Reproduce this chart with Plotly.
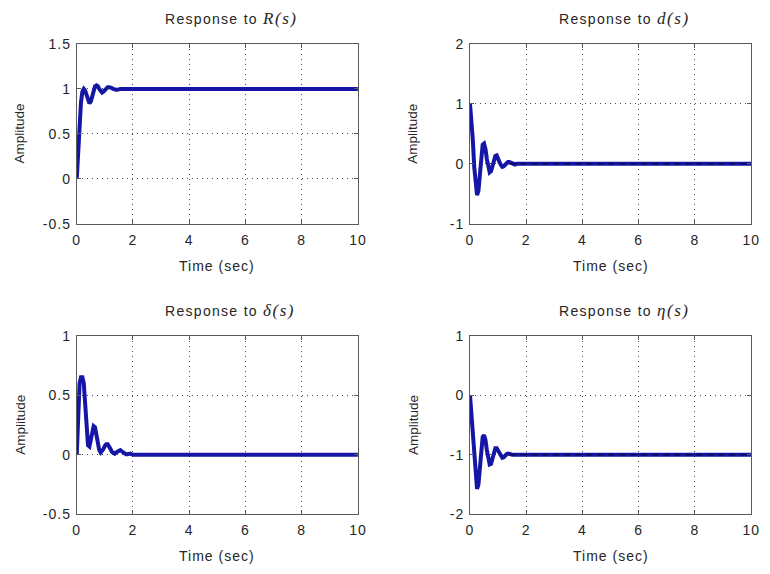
import plotly.graph_objects as go

# Sample instants (s): 0.05 s steps over the transient, then the end of the run
time_s = [0.0, 0.05, 0.1, 0.15, 0.2, 0.25, 0.3, 0.35, 0.4, 0.45,
          0.5, 0.55, 0.6, 0.65, 0.7, 0.75, 0.8, 0.85, 0.9, 0.95,
          1.0, 1.05, 1.1, 1.15, 1.2, 1.25, 1.3, 1.35, 1.4, 1.45,
          1.5, 1.55, 1.6, 1.65, 1.7, 1.75, 1.8, 1.85, 1.9, 1.95,
          2.0, 10.0]

resp_R = [0.0, 0.35, 0.65, 0.85, 0.97, 1.0, 0.98, 0.92, 0.86, 0.84,
          0.86, 0.92, 0.99, 1.03, 1.04, 1.03, 1.0, 0.97, 0.96, 0.97,
          0.99, 1.01, 1.02, 1.02, 1.02, 1.01, 1.0, 0.99, 0.99, 0.99,
          1.0, 1.0, 1.0, 1.0, 1.0, 1.0, 1.0, 1.0, 1.0, 1.0,
          1.0, 1.0]

resp_d = [1.0, 0.75, 0.4, -0.05, -0.4, -0.52, -0.45, -0.15, 0.15, 0.32,
          0.34, 0.25, 0.08, -0.06, -0.14, -0.12, -0.04, 0.06, 0.13, 0.14,
          0.1, 0.03, -0.02, -0.05, -0.04, -0.01, 0.02, 0.03, 0.03, 0.02,
          0.0, -0.01, -0.01, 0.0, 0.0, 0.0, 0.0, 0.0, 0.0, 0.0,
          0.0, 0.0]

resp_delta = [0.0, 0.4, 0.6, 0.65, 0.65, 0.6, 0.42, 0.2, 0.08, 0.07,
              0.12, 0.2, 0.24, 0.23, 0.17, 0.09, 0.04, 0.02, 0.03, 0.05,
              0.075, 0.09, 0.09, 0.075, 0.05, 0.025, 0.012, 0.01, 0.02, 0.03,
              0.04, 0.04, 0.03, 0.02, 0.01, 0.005, 0.005, 0.01, 0.01, 0.005,
              0.0, 0.0]

resp_eta = [0.0, -0.3, -0.65, -1.0, -1.4, -1.57, -1.5, -1.2, -0.88, -0.7,
            -0.67, -0.75, -0.92, -1.07, -1.16, -1.15, -1.06, -0.95, -0.89, -0.89,
            -0.93, -0.99, -1.03, -1.05, -1.04, -1.01, -0.99, -0.98, -0.98, -0.99,
            -1.0, -1.0, -1.0, -1.0, -1.0, -1.0, -1.0, -1.0, -1.0, -1.0,
            -1.0, -1.0]

# Steady-state levels drawn dashed for the disturbance / noise responses
final_d = 0.0
final_eta = -1.0
steady_from = 1.4

x_ticks = [0, 2, 4, 6, 8, 10]
x_ticktext = ["0", "2", "4", "6", "8", "10"]

y_ticks_R = [-0.5, 0, 0.5, 1, 1.5]
y_text_R = ["-0.5", "0", "0.5", "1", "1.5"]
y_ticks_d = [-1, 0, 1, 2]
y_text_d = ["-1", "0", "1", "2"]
y_ticks_delta = [-0.5, 0, 0.5, 1]
y_text_delta = ["-0.5", "0", "0.5", "1"]
y_ticks_eta = [-2, -1, 0, 1]
y_text_eta = ["-2", "-1", "0", "1"]

title_inputs = ["R(s)", "d(s)", "&#948;(s)", "&#951;(s)"]

W, H = 770, 574
SANS = "Liberation Sans, Arial, sans-serif"
TEXT = "#262626"
LINE = "#1616a6"
FS = 14


def wide(s, spacing=1.0):
    """Horizontal text with a little extra tracking."""
    return f"<span style='letter-spacing:{spacing}px'>{s}</span>"


# pixel boxes of the four panels: (left, right, top, bottom)
boxes = [(74, 360, 37, 222), (474, 760, 37, 222),
         (74, 360, 337, 521), (474, 760, 337, 521)]

panels = [
    (resp_R, y_ticks_R, y_text_R, None),
    (resp_d, y_ticks_d, y_text_d, final_d),
    (resp_delta, y_ticks_delta, y_text_delta, None),
    (resp_eta, y_ticks_eta, y_text_eta, final_eta),
]

fig = go.Figure()
annotations = []
layout_axes = {}

for i, ((resp, yt, ytt, final), (l, r, t, b), name) in enumerate(
        zip(panels, boxes, title_inputs)):
    n = i + 1
    xa = "x" if n == 1 else f"x{n}"
    ya = "y" if n == 1 else f"y{n}"

    fig.add_trace(go.Scatter(x=time_s, y=resp, mode="lines",
                             line=dict(color=LINE, width=4),
                             xaxis=xa, yaxis=ya, showlegend=False,
                             hoverinfo="skip"))
    if final is not None:
        fig.add_trace(go.Scatter(x=[steady_from, time_s[-1]], y=[final, final],
                                 mode="lines",
                                 line=dict(color="#0a0a50", width=1.5, dash="6px,5px"),
                                 xaxis=xa, yaxis=ya, showlegend=False,
                                 hoverinfo="skip"))

    common = dict(showline=True, linecolor="#5a5a5a", linewidth=1, mirror="ticks",
                  ticks="inside", ticklen=4, tickcolor="#5a5a5a",
                  showgrid=True, gridcolor="#4a4a4a", gridwidth=1, griddash="1px,4px",
                  zeroline=False, tickfont=dict(family=SANS, size=FS, color=TEXT),
                  fixedrange=True)
    layout_axes["xaxis" if n == 1 else f"xaxis{n}"] = dict(
        common, domain=[l / W, r / W], range=[0, 10],
        tickvals=x_ticks, ticktext=[wide(s) for s in x_ticktext],
        ticklabelstandoff=3, anchor=ya)
    layout_axes["yaxis" if n == 1 else f"yaxis{n}"] = dict(
        common, domain=[1 - b / H, 1 - t / H], range=[yt[0], yt[-1]],
        tickvals=yt, ticktext=[wide(s) for s in ytt],
        ticklabelstandoff=2, anchor=xa)

    # panel title: sans text followed by an italic serif transfer-function name
    annotations.append(dict(
        x=(l + 88) / W, y=1 - (t - 26) / H, xref="paper", yref="paper",
        xanchor="left", yanchor="middle", showarrow=False,
        text=(wide("Response to ", 1.3)
              + "<span style='font-family:Liberation Serif, Times New Roman, serif;"
              f"font-size:17px;font-style:italic;letter-spacing:1.5px'>{name}</span>"),
        font=dict(family=SANS, size=FS, color=TEXT)))
    annotations.append(dict(
        x=(l + r) / 2 / W, y=1 - (b + 43) / H, xref="paper", yref="paper",
        xanchor="center", yanchor="middle", showarrow=False,
        text=wide("Time (sec)", 1.0), font=dict(family=SANS, size=FS, color=TEXT)))
    annotations.append(dict(
        x=(l - 58) / W, y=1 - (t + b) / 2 / H, xref="paper", yref="paper",
        xanchor="center", yanchor="middle", showarrow=False, textangle=-90,
        text="Amplitude", font=dict(family=SANS, size=13.5, color=TEXT)))

fig.update_layout(
    width=W, height=H, autosize=False,
    margin=dict(l=0, r=0, t=0, b=0),
    paper_bgcolor="white", plot_bgcolor="white",
    annotations=annotations,
    **layout_axes,
)

fig.write_html("out.html")
